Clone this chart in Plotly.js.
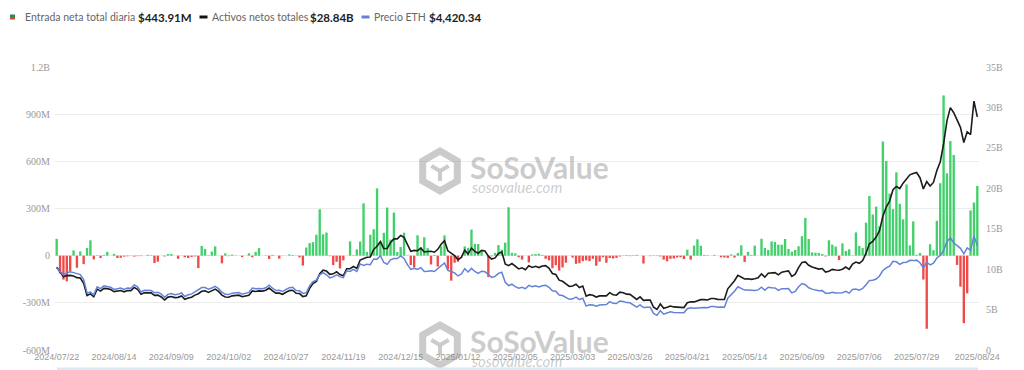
<!DOCTYPE html>
<html>
<head>
<meta charset="utf-8">
<script src="https://cdn.plot.ly/plotly-3.0.1.min.js"></script>
<style>html,body{margin:0;padding:0;background:#fff;}#chart{width:1024px;height:370px;}</style>
</head>
<body>
<div id="chart"></div>
<script>
// ---- DATA ----
const tickIndex = [0,17,34,51,68,85,102,119,136,153,170,187,204,221,238,255,273];
const tickLabels = ['2024/07/22','2024/08/14','2024/09/09','2024/10/02','2024/10/27','2024/11/19','2024/12/15','2025/01/12','2025/02/05','2025/03/03','2025/03/26','2025/04/21','2025/05/14','2025/06/09','2025/07/06','2025/07/29','2025/08/24'];

// Daily total net inflow (US$ millions)
const netInflow = [
107,-113,-152,-163,-98,34,-77,27,-54,49,
98,-24,3,-15,5,24,0,11,-15,-13,
-6,-4,-1,-6,-3,-3,0,6,-2,-47,
-38,0,-5,10,11,0,-20,1,-10,-15,
-8,-5,-79,62,43,3,26,59,0,-49,
15,-3,7,2,0,-9,0,15,-10,24,
48,0,2,-21,5,0,-19,-1,0,8,
4,-1,-11,-63,52,80,86,133,295,136,
147,-3,-60,-39,-81,-30,0,91,3,40,
90,333,24,133,168,428,84,145,306,102,
274,23,55,146,2,-60,-75,130,54,117,
48,-56,5,-69,59,129,-87,-159,-45,-39,
0,59,50,166,75,74,28,0,-136,-4,
18,67,38,83,308,18,15,-10,-25,0,
-43,8,10,12,5,-20,-30,-80,-60,-95,
-75,-45,0,-12,-52,-48,-35,-30,-35,-20,
-64,-38,-10,-45,-15,-18,-14,-5,2,4,
-3,3,5,0,-50,0,-3,2,-2,-5,
-25,-36,-20,-18,-12,-10,-22,38,-25,64,
104,63,5,3,0,5,0,-10,-12,-14,
8,-12,17,66,-40,24,5,64,0,108,
49,36,91,87,70,70,106,43,25,36,
60,124,240,106,21,19,17,10,-5,98,
70,58,-28,78,30,40,2,148,62,48,
210,380,262,312,187,726,602,395,296,530,
330,231,453,65,218,6,17,-152,-465,73,
35,222,461,1019,524,729,640,-59,-197,-429,
-240,288,338,443.91
];

// Total net assets (US$ billions)
const totalAssets = [
10.23,9.72,9.08,9.20,9.23,9.15,8.95,8.90,8.25,6.73,
6.94,6.58,7.53,7.28,7.62,7.59,7.47,7.22,7.25,7.36,
7.20,7.36,7.34,7.73,7.50,6.89,7.08,7.08,7.06,6.76,
6.79,6.56,6.18,6.54,6.62,6.48,6.51,6.68,6.27,6.44,
6.52,6.79,6.96,7.26,7.31,7.12,7.29,7.53,7.25,6.79,
6.56,6.53,6.70,6.73,6.78,6.59,6.64,6.78,7.31,7.23,
7.31,7.28,7.39,7.67,7.31,7.03,7.03,6.89,7.14,7.34,
7.39,7.01,6.98,6.60,6.70,7.62,8.21,8.49,9.44,9.87,
9.76,9.36,9.42,9.67,9.33,9.18,10.05,10.06,10.33,10.09,
11.13,11.27,11.47,11.51,12.43,12.82,13.40,12.54,12.56,13.29,
13.74,13.74,14.16,13.93,13.00,12.21,12.32,12.28,12.60,12.12,
12.19,12.20,12.09,12.45,13.07,13.51,12.27,11.92,11.67,11.18,
11.46,12.35,11.88,12.59,12.19,11.96,12.32,12.25,11.61,11.24,
11.39,11.93,12.14,10.65,10.43,10.69,10.30,10.03,10.16,9.93,
10.41,10.21,10.36,10.20,10.39,10.44,10.11,9.46,9.34,8.64,
8.50,8.13,7.87,7.92,8.13,7.73,7.90,6.66,6.84,6.78,
6.55,6.69,6.74,6.70,7.09,6.83,6.78,7.16,7.09,6.91,
6.88,6.54,6.26,6.57,6.14,6.17,6.17,5.29,5.01,5.69,
5.15,5.29,5.44,5.33,5.28,5.26,5.25,5.85,5.96,5.95,
6.12,6.23,6.23,6.19,6.37,6.37,6.26,6.28,6.24,7.57,
8.05,8.57,9.25,9.06,8.79,8.81,8.74,8.82,8.93,9.42,
9.01,9.50,9.53,9.57,9.29,9.62,9.72,9.79,9.10,9.37,
10.18,10.83,10.89,10.48,10.27,10.17,10.01,10.08,9.64,9.74,
9.97,9.90,9.87,9.99,10.26,9.98,10.64,10.88,10.72,11.07,
11.97,13.13,13.44,13.97,14.76,16.55,17.68,18.42,19.82,20.23,
19.97,20.63,21.13,21.66,21.83,21.95,21.31,19.91,20.83,20.29,
20.72,22.19,23.26,25.49,28.34,29.97,29.35,28.53,27.54,25.66,
26.98,26.65,30.77,28.84
];

// ETH price (US$)
const ethPrice = [
3480,3340,3175,3275,3320,3280,3230,3200,2990,2420,
2460,2340,2680,2600,2720,2700,2660,2570,2590,2630,
2570,2630,2620,2760,2680,2460,2530,2530,2520,2430,
2450,2370,2230,2360,2390,2340,2360,2420,2270,2340,
2370,2470,2560,2650,2650,2580,2630,2700,2600,2450,
2360,2350,2410,2420,2440,2370,2390,2440,2630,2600,
2610,2600,2640,2750,2620,2520,2530,2480,2570,2640,
2660,2520,2510,2400,2420,2720,2900,2960,3190,3280,
3190,3060,3100,3190,3110,3070,3360,3330,3420,3330,
3650,3590,3640,3620,3860,3850,4000,3710,3630,3820,
3880,3880,3990,3880,3620,3420,3470,3420,3490,3330,
3340,3360,3330,3450,3600,3690,3380,3330,3270,3140,
3220,3450,3310,3460,3330,3250,3340,3320,3180,3080,
3120,3250,3300,2870,2730,2790,2690,2620,2660,2600,
2740,2680,2720,2670,2720,2740,2660,2510,2490,2330,
2310,2220,2150,2170,2240,2140,2200,1860,1920,1910,
1860,1910,1930,1930,2050,1980,1970,2080,2060,2010,
2000,1900,1820,1910,1800,1810,1810,1550,1470,1670,
1520,1570,1620,1590,1580,1580,1580,1750,1790,1770,
1790,1800,1800,1790,1840,1840,1810,1820,1810,2200,
2340,2490,2680,2610,2540,2540,2520,2520,2550,2660,
2530,2660,2640,2630,2530,2600,2600,2610,2420,2480,
2680,2820,2770,2640,2580,2550,2510,2520,2410,2410,
2450,2420,2420,2430,2490,2410,2570,2590,2540,2610,
2770,2950,2960,3010,3140,3370,3480,3550,3760,3740,
3630,3710,3720,3800,3790,3810,3700,3480,3720,3610,
3680,3900,4010,4220,4600,4750,4550,4430,4310,4080,
4330,4230,4830,4420.34
];

const leftTickVals = [-600,-300,0,300,600,900,1200];
const leftTickText = ['-600M','-300M','0','300M','600M','900M','1.2B'];
const rightTickVals = [0,5,10,15,20,25,30,35];
const rightTickText = ['0','5B','10B','15B','20B','25B','30B','35B'];

// ---- CHART ----
const idx = netInflow.map((_, i) => i);
const GREEN = '#43cf6c', RED = '#ee4a4a';
const barColors = netInflow.map(v => v >= 0 ? GREEN : RED);

const L = 55, R = 45, T = 67, B = 20;
const W = 1024 - L - R, H = 370 - T - B;
const px = x => (x - L) / W;
const py = y => 1 - (y - T) / H;

const traces = [
  {type:'bar', x: idx, y: netInflow, marker:{color: barColors, line:{width:0}}, yaxis:'y', hoverinfo:'skip'},
  {type:'scatter', mode:'lines', x: idx, y: ethPrice, yaxis:'y3', line:{color:'#6482d8', width:1.5}, hoverinfo:'skip'},
  {type:'scatter', mode:'lines', x: idx, y: totalAssets, yaxis:'y2', line:{color:'#1c1c1c', width:1.6}, hoverinfo:'skip'}
];

const wmColor = 'rgba(140,140,140,0.45)';
function hexPath(cx, cy, r) {
  const pts = [];
  for (let k = 0; k < 6; k++) {
    const a = Math.PI / 180 * (60 * k - 90);
    pts.push([px(cx + r * Math.cos(a)), py(cy + r * Math.sin(a))]);
  }
  return 'M' + pts.map(p => p[0] + ',' + p[1]).join(' L') + ' Z';
}
function cubePath(cx, cy, r) {
  const c = [px(cx), py(cy)];
  const a1 = [px(cx), py(cy + r)];
  const a2 = [px(cx - r * 0.866), py(cy - r * 0.5)];
  const a3 = [px(cx + r * 0.866), py(cy - r * 0.5)];
  return `M${c[0]},${c[1]} L${a1[0]},${a1[1]} M${c[0]},${c[1]} L${a2[0]},${a2[1]} M${c[0]},${c[1]} L${a3[0]},${a3[1]}`;
}

const shapes = [
  // legend icons
  {type:'rect', xref:'paper', yref:'paper', x0:px(10), x1:px(15), y0:py(14.5), y1:py(17), fillcolor:'#2e8b4a', line:{width:0}},
  {type:'rect', xref:'paper', yref:'paper', x0:px(10), x1:px(15), y0:py(17), y1:py(19.5), fillcolor:'#d9413c', line:{width:0}},
  {type:'line', xref:'paper', yref:'paper', x0:px(199.5), x1:px(207.5), y0:py(17), y1:py(17), line:{color:'#111', width:3}},
  {type:'line', xref:'paper', yref:'paper', x0:px(361.5), x1:px(369.5), y0:py(17), y1:py(17), line:{color:'#6482d8', width:3}},
  // watermark logos
  {type:'path', xref:'paper', yref:'paper', path: hexPath(440, 171, 20), line:{color:wmColor, width:7}},
  {type:'path', xref:'paper', yref:'paper', path: cubePath(440, 171, 10), line:{color:wmColor, width:4}},
  {type:'path', xref:'paper', yref:'paper', path: hexPath(440, 345, 20), line:{color:wmColor, width:7}},
  {type:'path', xref:'paper', yref:'paper', path: cubePath(440, 345, 10), line:{color:wmColor, width:4}},
  // bottom slider edge
  {type:'rect', xref:'paper', yref:'paper', x0:px(57), x1:px(978), y0:py(367.5), y1:py(371), fillcolor:'#dfe7f4', line:{width:0}}
];

const legFont = {family:'Lato, "Open Sans", sans-serif', size:10.5, color:'#666'};
const legBold = {family:'Lato, "Open Sans", sans-serif', size:11.5, color:'#222', weight:700};
function ann(x, y, text, font, extra) {
  return Object.assign({xref:'paper', yref:'paper', x:px(x), y:py(y), xanchor:'left', yanchor:'middle', text, font, showarrow:false}, extra || {});
}
const annotations = [
  ann(23, 17, 'Entrada neta total diaria', legFont),
  ann(136, 17, '<b>$443.91M</b>', legBold),
  ann(210, 17, 'Activos netos totales', legFont),
  ann(308, 17, '<b>$28.84B</b>', legBold),
  ann(372, 17, 'Precio ETH', legFont),
  ann(427, 17, '<b>$4,420.34</b>', legBold),
  ann(468, 167, '<b>SoSoValue</b>', {family:'Lato, "Open Sans", sans-serif', size:30, color:wmColor}),
  ann(470, 187, '<i>sosovalue.com</i>', {family:'Lato, "Open Sans", sans-serif', size:15, color:wmColor}),
  ann(468, 341, '<b>SoSoValue</b>', {family:'Lato, "Open Sans", sans-serif', size:30, color:wmColor}),
  ann(470, 361, '<i>sosovalue.com</i>', {family:'Lato, "Open Sans", sans-serif', size:15, color:wmColor})
];

const axisFont = {family:'"Liberation Serif", serif', size:10, color:'#999'};
const layout = {
  width:1024, height:370,
  margin:{l:L, r:R, t:T, b:B, pad:0},
  paper_bgcolor:'#fff', plot_bgcolor:'#fff',
  showlegend:false,
  bargap:0.3,
  xaxis:{
    range:[-0.5, netInflow.length - 0.5],
    tickmode:'array', tickvals: tickIndex.map(i => idx[i]), ticktext: tickLabels,
    tickfont:{family:'"Liberation Sans", Arial, sans-serif', size:9, color:'#999'},
    showgrid:false, zeroline:false, showline:false, ticks:'', ticklen:0
  },
  yaxis:{
    range:[-600, 1200], tickmode:'array', tickvals:leftTickVals, ticktext:leftTickText,
    tickfont:axisFont, showgrid:true, gridcolor:'#ececec', gridwidth:1,
    zeroline:false, showline:false, ticks:'', ticklabelstandoff:4
  },
  yaxis2:{
    range:[0, 35], overlaying:'y', side:'right', tickmode:'array', tickvals:rightTickVals, ticktext:rightTickText,
    tickfont:axisFont, showgrid:false, zeroline:false, showline:false, ticks:'', ticklabelstandoff:6
  },
  yaxis3:{
    range:[0, 12000], overlaying:'y', side:'right', visible:false, showgrid:false, zeroline:false
  },
  shapes, annotations
};

Plotly.newPlot('chart', traces, layout, {displayModeBar:false, staticPlot:true});
</script>
</body>
</html>
